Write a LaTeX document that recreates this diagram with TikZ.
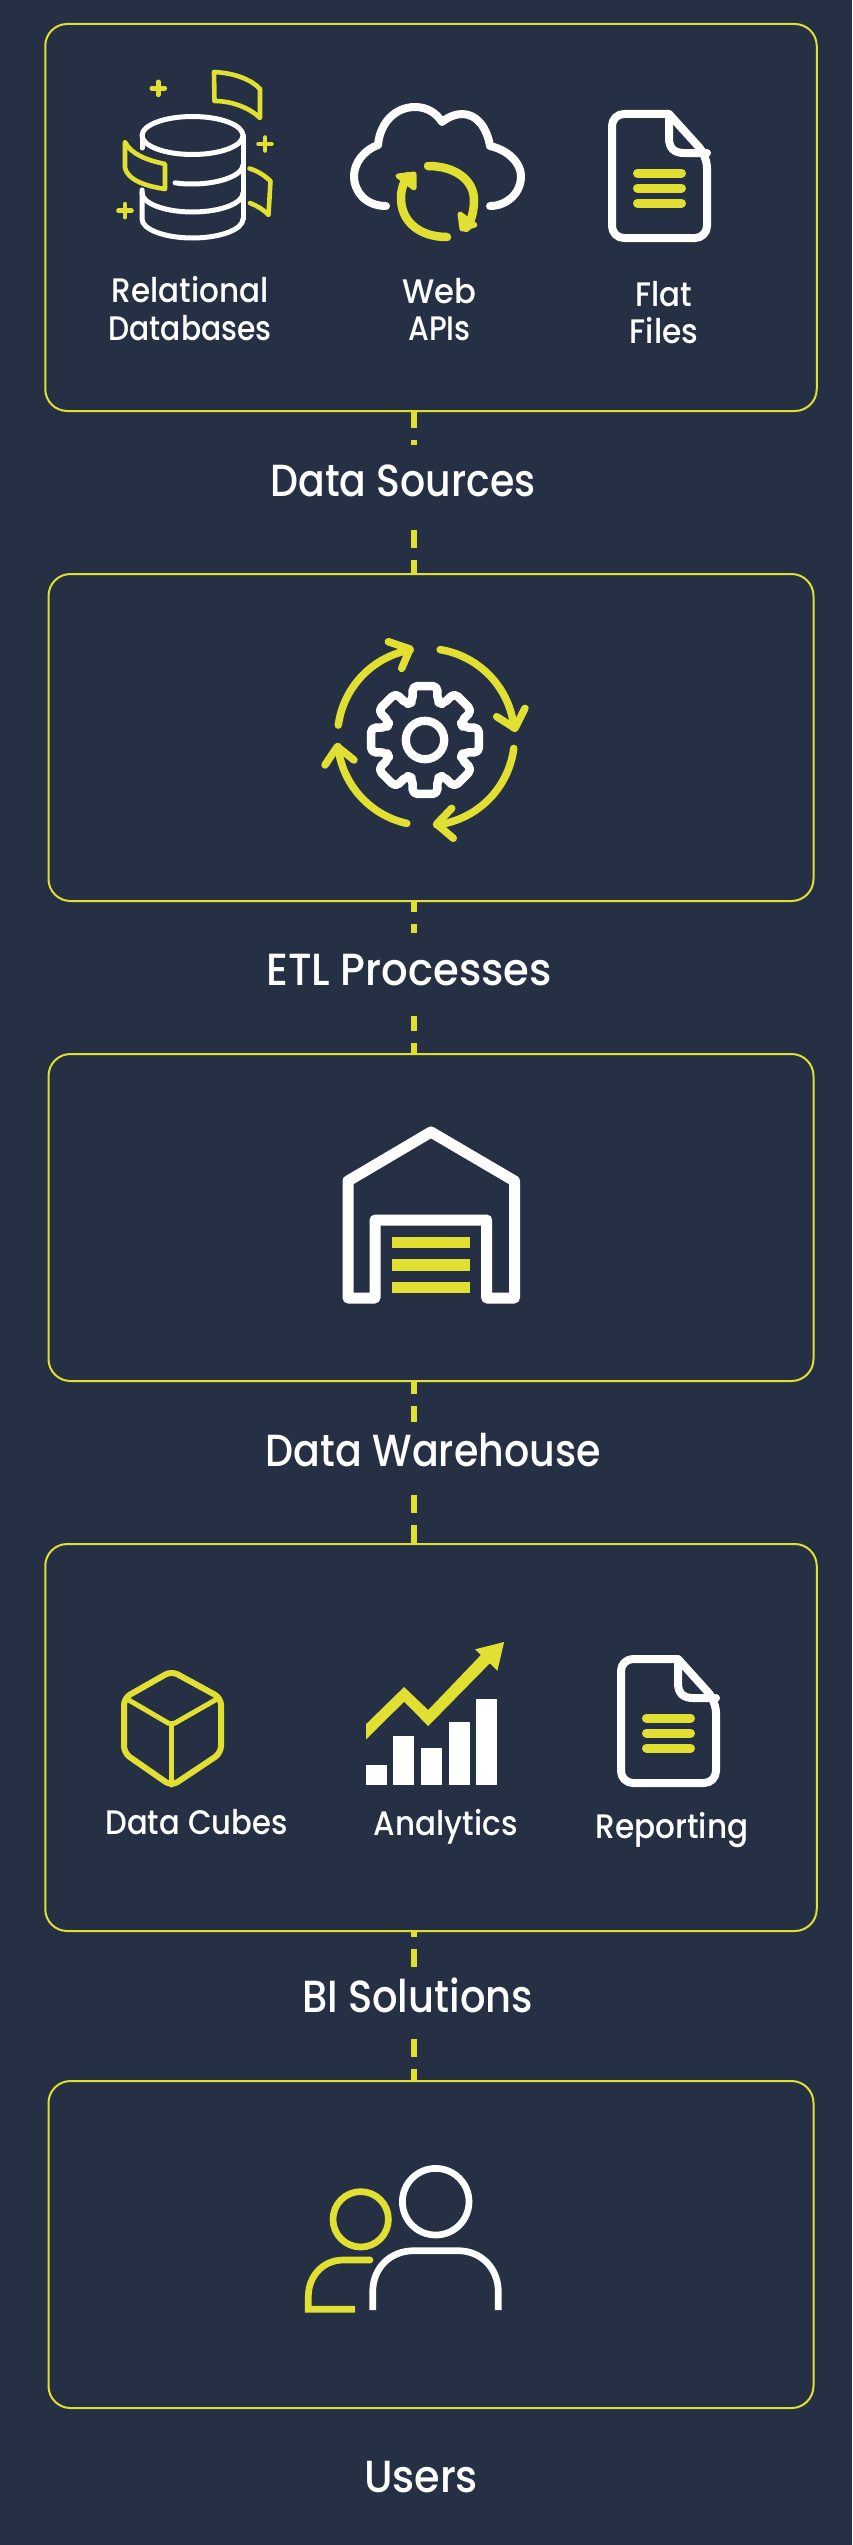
\documentclass[tikz,border=0pt]{standalone}
\usepackage{graphicx}
\usepackage{fontspec}
\newfontfamily\labfont{Poppins Medium}
\definecolor{bgc}{HTML}{263044}
\definecolor{yel}{HTML}{E1E032}
\newcommand{\fitw}[2]{\resizebox{#1pt}{\height}{#2}}
\newcommand{\bigfont}{\labfont\fontsize{45}{45}\selectfont}
\newcommand{\smallfont}{\labfont\fontsize{34}{37.5}\selectfont}
\tikzset{
  panel/.style={draw=yel,line width=2pt,rounded corners=22pt,fill=bgc,inner sep=0pt},
  conn/.style={draw=yel,line width=6pt,dash pattern=on 18pt off 12pt},
  seclabel/.style={text=white,inner sep=0pt,anchor=base,font=\bigfont},
  itemlabel/.style={text=white,inner sep=0pt,anchor=base,align=center,font=\smallfont},
  wline/.style={draw=white,line cap=round,line join=round},
  yline/.style={draw=yel,line cap=round,line join=round},
}
\newcommand{\docicon}[2]{%
  \begin{scope}[shift={(#1,#2)}]
    \draw[wline,line width=8pt,rounded corners=12pt] (61,4) -- (4,4) -- (4,128) -- (99,128) -- (99,46) [sharp corners] -- cycle;
    \draw[wline,line width=8pt] (61,4) -- (61,28) .. controls (61,38) and (66,43) .. (76,43) -- (99,43);
    \foreach \yy in {63,78,93}{\draw[yline,line width=9pt] (29.5,\yy) -- (73.5,\yy);}
  \end{scope}}
\begin{document}
\begin{tikzpicture}[x=1pt,y=-1pt]
\useasboundingbox (0,0) rectangle (852,2545);
\fill[bgc] (0,0) rectangle (852,2545);
\coordinate (j) at (414,0);
% panels
\node[panel,minimum width=771.5pt,minimum height=387pt] (box1) at (431,217.5) {};
\node[panel,minimum width=765pt,minimum height=327pt] (box2) at (431,737.5) {};
\node[panel,minimum width=765pt,minimum height=327pt] (box3) at (431,1217.5) {};
\node[panel,minimum width=771.5pt,minimum height=387pt] (box4) at (431,1737.5) {};
\node[panel,minimum width=765pt,minimum height=327pt] (box5) at (431,2244.5) {};
% section labels
\node[seclabel,text height=51.7pt,text depth=33.3pt] (lab1) at (403,496.7) {\fitw{265}{Data Sources}};
\node[seclabel,text height=53pt,text depth=30.3pt] (lab2) at (409,985.7) {\fitw{285.7}{ETL Processes}};
\node[seclabel,text height=44.7pt,text depth=28.3pt] (lab3) at (433.3,1466.7) {\fitw{334.7}{Data Warehouse}};
\node[seclabel,text height=46pt,text depth=26pt] (lab4) at (417.5,2012.7) {\fitw{231}{BI Solutions}};
\node[seclabel] (lab5) at (421,2492) {\fitw{114}{Users}};
% connectors
\draw[conn,dash phase=2pt] (box1.south -| j) -- (lab1.north -| j);
\draw[conn] (lab1.south -| j) -- (box2.north -| j);
\draw[conn,dash phase=8pt] (box2.south -| j) -- (lab2.north -| j);
\draw[conn,dash phase=3pt] (lab2.south -| j) -- (box3.north -| j);
\draw[conn,dash phase=6pt] (box3.south -| j) -- (lab3.north -| j);
\draw[conn] (lab3.south -| j) -- (box4.north -| j);
\draw[conn,dash phase=13pt] (box4.south -| j) -- (lab4.north -| j);
\draw[conn] (lab4.south -| j) -- (box5.north -| j);
% item labels
\node[itemlabel] (rel) at (190,340.2) {\fitw{157}{Relational}\\\fitw{163}{Databases}};
\node[itemlabel] (web) at (439.5,340.5) {\fitw{74}{Web}\\\fitw{62.5}{APIs}};
\node[itemlabel] (flat) at (664,343.5) {\fitw{56.5}{Flat}\\\fitw{68.5}{Files}};
\node[itemlabel] (cubes) at (196.5,1834) {\fitw{182}{Data Cubes}};
\node[itemlabel] (ana) at (445.7,1835) {\fitw{143.7}{Analytics}};
\node[itemlabel] (rep) at (672,1838) {\fitw{153}{Reporting}};
% database icon
\draw[wline,line width=5pt] (192.5,135.5) ellipse [x radius=50.5,y radius=19];
\draw[wline,line width=5pt] (142,135.5) -- (142,148);
\draw[wline,line width=5pt] (243,135.5) -- (243,219);
\draw[wline,line width=5pt] (175,182.8) .. controls (181,183.8) and (187,184) .. (192.5,184) .. controls (220,184) and (243,175) .. (243,165);
\draw[wline,line width=5pt] (142,190) -- (142,219) .. controls (142,229.5) and (165,238) .. (192.5,238) .. controls (220,238) and (243,229.5) .. (243,219);
\draw[wline,line width=5pt] (142,193) .. controls (142,203.5) and (165,212) .. (192.5,212) .. controls (220,212) and (243,203.5) .. (243,193);
\draw[yline,line width=4.6pt] (214,72) .. controls (235,73) and (252,80) .. (260,89) -- (260,118) .. controls (250,108) and (232,101) .. (214.5,101) -- cycle;
\draw[yline,line width=4.6pt] (125,142) .. controls (131,154) and (146,160) .. (165,164) -- (165,189) .. controls (145,186) and (128,180) .. (125,168) -- cycle;
\draw[yline,line width=4.6pt] (249.5,168.5) .. controls (258,171) and (265,176) .. (270.5,181) -- (268.5,215) .. controls (263,209) and (257,206) .. (250,203);
\foreach \px/\py in {158.3/88.3,265/144,125/210.7}{
  \draw[yline,line width=4.6pt] (\px-6.5,\py) -- (\px+6.5,\py) (\px,\py-6.5) -- (\px,\py+6.5);}
% cloud icon
\draw[wline,line width=8pt] (386,206) .. controls (366,206) and (354,192) .. (354,176) .. controls (354,163) and (364,150) .. (378,145) .. controls (380,122) and (396,107) .. (415,107) .. controls (428,107) and (437,114) .. (442,122) .. controls (448,117) and (456,114) .. (462,114) .. controls (477,114) and (487,128) .. (490,146) .. controls (508,150) and (521,163) .. (521,176) .. controls (521,194) and (506,206) .. (490,206);
\draw[yline,line width=8.5pt] (447,237) .. controls (420,237) and (401,222) .. (401,198) .. controls (401,190) and (403,183) .. (408,176);
\draw[yline,line width=8.5pt] (428,166) .. controls (455,166) and (474,180) .. (474,200) .. controls (474,212) and (471,222) .. (466,228);
\filldraw[yline,fill=yel,line width=5pt] (398,176) -- (414,174) -- (414,188) -- cycle;
\filldraw[yline,fill=yel,line width=5pt] (460,214) -- (462,229) -- (475,225) -- cycle;
% flat file icon
\docicon{608}{110}
% gear icon
\begin{scope}[shift={(425,740)}]
  \draw[wline,line width=8.5pt,rounded corners=5pt] (-18.2:40)
    \foreach \a in {0,45,...,315}{ -- (\a-18.2:40) -- (\a-13:55.4) -- (\a+13:55.4) -- (\a+18.2:40)} -- cycle;
  \draw[draw=white,line width=8.3pt] (0,0) circle [radius=19.2];
\end{scope}
\begin{scope}[shift={(426,737)}]
  \draw[yline,line width=7.5pt] plot[domain=-80.8:-5.8,samples=40] (\x:88.5);
  \draw[yline,line width=7.5pt] plot[domain=7.4:83,samples=40] (\x:88.5);
  \draw[yline,line width=7.5pt] plot[domain=102.5:173.8,samples=40] (\x:88.5);
  \draw[yline,line width=7.5pt] plot[domain=-172.3:-100.3,samples=40] (\x:88.5);
\end{scope}
\draw[yline,line width=7.5pt] (525,708.3) -- (515,728.3) -- (496.7,716.7);
\draw[yline,line width=7.5pt] (451.7,808.3) -- (436.7,824) -- (453.3,838.3);
\draw[yline,line width=7.5pt] (325,765) -- (337.3,746.7) -- (354,760);
\draw[yline,line width=7.5pt] (388.3,641.7) -- (410,649) -- (401.7,668.3);
% warehouse icon
\draw[wline,line width=11pt] (375,1298) -- (348,1298) -- (348,1181) -- (431,1132) -- (514.5,1181) -- (514.5,1298) -- (486.7,1298) -- (486.7,1220) -- (375,1220) -- cycle;
\foreach \yy in {1237,1259.3,1281.7}{\fill[yel] (391.7,\yy) rectangle (470,\yy+11.3);}
% cube icon
\draw[yline,line width=6pt,rounded corners=7pt] (171.5,1671) -- (221,1698) -- (221,1753) -- (171.5,1786) -- (124,1753) -- (124,1698) -- cycle;
\draw[yline,line width=5pt,rounded corners=4pt] (127,1699) -- (171.5,1725) -- (217,1699);
\draw[yline,line width=5pt] (171.5,1725) -- (171.5,1785);
% analytics icon
\fill[yel] (366.2,1724) -- (404.1,1687) -- (428.2,1710) -- (480.9,1655) -- (475.1,1649.3) -- (504.1,1642) -- (497.4,1670.7) -- (489.8,1663.3) -- (428.2,1726) -- (404.1,1701.7) -- (366.2,1739.3) -- cycle;
\fill[white] (366.2,1765) rectangle (387.1,1785);
\fill[white] (393.4,1736) rectangle (414.4,1785);
\fill[white] (421,1748) rectangle (442,1785);
\fill[white] (448.8,1722) rectangle (469.7,1785);
\fill[white] (476.4,1698.7) rectangle (497.4,1785);
% report icon
\docicon{617}{1655}
% users icon
\draw[draw=white,line width=6.7pt] (435.7,2201.7) circle [radius=33.3];
\draw[draw=white,line width=6.7pt] (372.7,2310) -- (372.7,2292) .. controls (372.7,2268) and (390,2250.7) .. (414,2250.7) -- (458,2250.7) .. controls (481,2250.7) and (498.3,2268) .. (498.3,2292) -- (498.3,2310);
\draw[draw=yel,line width=6.7pt] (360.7,2219.3) circle [radius=27.7];
\draw[draw=yel,line width=6.7pt,line join=miter] (370,2260) -- (343.3,2260) .. controls (323,2260) and (308.3,2276) .. (308.3,2296.7) -- (308.3,2309.3) -- (355,2309.3);
\fill[yel] (370,2260) circle [radius=3.35];
\end{tikzpicture}
\end{document}
